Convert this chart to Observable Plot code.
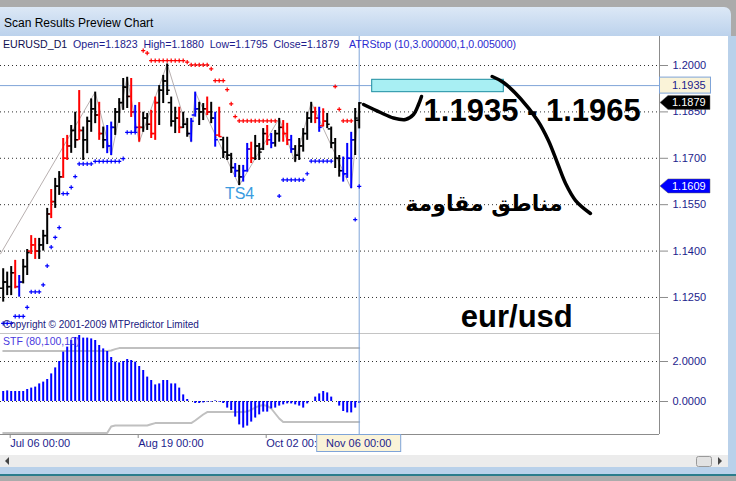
<!DOCTYPE html>
<html><head><meta charset="utf-8">
<script src="https://cdn.jsdelivr.net/npm/d3@7"></script>
<script src="https://cdn.jsdelivr.net/npm/@observablehq/plot@0.6"></script>
<style>
html,body{margin:0;padding:0;}
body{width:736px;height:481px;overflow:hidden;position:relative;background:#ababab;font-family:"Liberation Sans",Arial,sans-serif;}
.abs{position:absolute;}
#title{left:0;top:7px;width:731px;height:29px;background:linear-gradient(#dce8f6,#bcd2ec);border-top-right-radius:7px;}
#title span{position:absolute;left:4px;top:9px;font-size:12px;color:#000;}
#panel{left:0;top:36px;width:728px;height:419px;background:#fff;}
#rborder{left:728px;top:36px;width:8px;height:438px;background:#b9d1ea;}
#hscroll{left:0;top:455px;width:728px;height:12px;background:#ececec;}
#bborder{left:0;top:467px;width:736px;height:7px;background:#b9d1ea;}
#bline{left:0;top:474px;width:736px;height:2px;background:#2a7d8c;}
.txt{white-space:pre;font-size:11px;}
</style></head>
<body>
<div id="title" class="abs"><span>Scan Results Preview Chart</span></div>
<div id="panel" class="abs"></div>
<div id="rborder" class="abs"></div>
<div id="hscroll" class="abs"></div>
<div id="bborder" class="abs"></div>
<div id="bline" class="abs"></div>
<div id="pricewrap" class="abs" style="left:0;top:36px;"></div>
<div id="oscwrap" class="abs" style="left:0;top:332px;"></div>
<script>
// ---------- data ----------
const symbolName = "EURUSD_D1";
const atrLabel = "ATRStop (10,3.000000,1,0.005000)";
const oscLabel = "STF (80,100,10)";
const copyrightText = "Copyright \u00A9 2001-2009 MTPredictor Limited";

const highs = [1.1343,1.1332,1.1350,1.1370,1.1321,1.1373,1.1405,1.1450,1.1441,1.1441,
1.1467,1.1538,1.1599,1.1635,1.1657,1.1764,1.1774,1.1806,1.1849,1.1919,
1.1801,1.1833,1.1892,1.1914,1.1881,1.1801,1.1806,1.1817,1.1861,1.1893,
1.1958,1.1962,1.1958,1.1871,1.1880,1.1849,1.1845,1.1855,1.1898,1.1935,
1.1968,1.2005,1.1898,1.1865,1.1865,1.1849,1.1829,1.1829,1.1914,1.1881,
1.1877,1.1898,1.1881,1.1849,1.1865,1.1768,1.1768,1.1716,1.1683,1.1677,
1.1677,1.1748,1.1752,1.1774,1.1748,1.1796,1.1806,1.1780,1.1790,1.1829,
1.1822,1.1813,1.1774,1.1741,1.1764,1.1796,1.1849,1.1881,1.1865,1.1865,
1.1860,1.1845,1.1801,1.1764,1.1709,1.1704,1.1748,1.1784,1.1861,1.1880];
const lows = [1.1235,1.1256,1.1256,1.1278,1.1251,1.1294,1.1321,1.1389,1.1373,1.1373,
1.1400,1.1421,1.1505,1.1538,1.1580,1.1635,1.1693,1.1716,1.1732,1.1758,
1.1693,1.1715,1.1784,1.1812,1.1758,1.1731,1.1715,1.1709,1.1774,1.1813,
1.1855,1.1861,1.1832,1.1780,1.1752,1.1784,1.1790,1.1764,1.1758,1.1806,
1.1877,1.1903,1.1801,1.1780,1.1780,1.1796,1.1768,1.1752,1.1833,1.1806,
1.1822,1.1838,1.1812,1.1736,1.1768,1.1699,1.1693,1.1651,1.1638,1.1612,
1.1623,1.1655,1.1683,1.1693,1.1693,1.1725,1.1741,1.1731,1.1736,1.1752,
1.1752,1.1741,1.1716,1.1687,1.1693,1.1720,1.1758,1.1813,1.1812,1.1784,
1.1801,1.1796,1.1731,1.1667,1.1639,1.1623,1.1635,1.1602,1.1709,1.1795];
const opens = [1.1280,1.1300,1.1285,1.1330,1.1285,1.1300,1.1350,1.1400,1.1420,1.1400,
1.1420,1.1450,1.1520,1.1560,1.1610,1.1640,1.1700,1.1740,1.1790,1.1760,
1.1790,1.1760,1.1820,1.1860,1.1840,1.1780,1.1760,1.1740,1.1800,1.1850,
1.1880,1.1930,1.1900,1.1850,1.1800,1.1800,1.1830,1.1810,1.1780,1.1880,
1.1920,1.1950,1.1880,1.1820,1.1830,1.1800,1.1810,1.1780,1.1840,1.1860,
1.1850,1.1860,1.1850,1.1830,1.1775,1.1760,1.1720,1.1710,1.1670,1.1660,
1.1640,1.1660,1.1730,1.1700,1.1740,1.1730,1.1780,1.1760,1.1750,1.1780,
1.1800,1.1780,1.1760,1.1730,1.1710,1.1740,1.1780,1.1830,1.1850,1.1830,
1.1805,1.1820,1.1795,1.1750,1.1700,1.1660,1.1650,1.1700,1.1760,1.1823];
const closes = [1.1300,1.1285,1.1330,1.1285,1.1300,1.1350,1.1395,1.1420,1.1400,1.1420,
1.1450,1.1520,1.1560,1.1610,1.1640,1.1700,1.1740,1.1790,1.1760,1.1790,
1.1760,1.1820,1.1860,1.1840,1.1780,1.1760,1.1740,1.1800,1.1850,1.1880,
1.1930,1.1900,1.1850,1.1800,1.1800,1.1830,1.1810,1.1780,1.1880,1.1920,
1.1950,1.1920,1.1820,1.1830,1.1800,1.1810,1.1780,1.1820,1.1860,1.1850,
1.1860,1.1850,1.1830,1.1760,1.1770,1.1720,1.1710,1.1670,1.1660,1.1640,
1.1660,1.1730,1.1700,1.1740,1.1720,1.1780,1.1760,1.1750,1.1780,1.1800,
1.1780,1.1760,1.1730,1.1710,1.1740,1.1780,1.1830,1.1850,1.1830,1.1800,
1.1820,1.1810,1.1750,1.1700,1.1660,1.1650,1.1700,1.1760,1.1830,1.1879];
// k = black, r = red, u = blue
const barColors = "kkkrukkrrk" + "kkrkkrrkkr" + "kkkkrkuukk" + "kkrurkkrrk" + "kkkkrkkuuk" +
                  "krkurkkkuk" + "uurkkkrukk" + "rrukkkkkru" + "rkkkkuuukk";
const colorCodes = {k:"#000000", r:"#ff0000", u:"#0000ff"};

const atrBlue = [1.1166,1.1166,1.1166,1.1189,1.1189,1.1189,1.1218,1.1268,1.1268,1.1268,
1.1291,1.1352,1.1413,1.1444,1.1476,1.1586,1.1586,1.1606,1.1641,1.1682,
1.1682,1.1682,1.1682,1.1690,1.1690,1.1690,1.1690,1.1690,1.1690,1.1690,
1.1699,1.1784,1.1784,1.1784,null,null,null,null,null,null,
null,null,null,null,null,null,null,null,null,null,
null,null,null,null,null,null,null,null,null,null,
null,null,null,null,null,null,null,null,null,1.1578,
1.1630,1.1630,1.1630,1.1630,1.1630,1.1630,1.1650,1.1691,1.1691,1.1691,
1.1691,1.1691,1.1691,null,null,null,null,null,1.1502,1.1609];
const atrRed = [null,null,null,null,null,null,null,null,null,null,
null,null,null,null,null,null,null,null,null,null,
null,null,null,null,null,null,null,null,null,null,
null,null,null,null,null,1.2048,1.2040,1.2016,1.2016,1.2016,
1.2016,1.2016,1.2016,1.2016,1.2016,1.2016,1.2011,1.2002,1.2002,1.2002,
1.2002,1.2002,1.1989,1.1951,1.1951,1.1951,1.1922,1.1876,1.1835,1.1821,
1.1821,1.1821,1.1821,1.1821,1.1821,1.1821,1.1821,1.1821,1.1821,null,
null,null,null,null,null,null,null,null,null,null,
null,null,null,1.1932,1.1858,1.1821,1.1821,1.1821,null,null];

const zigzagIdx = [-0.675,23,27,31,34,41,47,48,59,69,73,77,87,89];
const zigzagPrice = [1.1391,1.1914,1.1709,1.1962,1.1752,1.2005,1.1752,1.1914,1.1612,1.1829,1.1687,1.1881,1.1602,1.1880];

const osc = [0.5,0.53,0.5,0.5,0.5,0.5,0.6,0.67,0.72,0.88,
0.97,1.1,1.38,1.68,2.0,2.47,2.72,3.05,3.2,3.3,
3.17,3.17,3.13,3.05,2.8,2.63,2.5,2.2,1.97,1.93,
2.0,2.1,2.05,1.97,1.75,1.55,1.22,1.05,0.83,0.88,
1.05,1.05,0.88,0.88,0.67,0.33,0.1,0,-0.1,-0.1,
-0.07,-0.03,-0.03,0.03,-0.03,-0.1,-0.33,-0.45,-0.78,-1.17,
-1.33,-1.23,-1.03,-0.83,-0.67,-0.53,-0.53,-0.37,-0.33,-0.23,
-0.17,-0.12,-0.12,-0.17,-0.23,-0.33,-0.12,0,0.22,0.38,
0.5,0.43,0.22,0,-0.23,-0.5,-0.57,-0.57,-0.33,-0.1];
const oscUpper = [2.53,2.53,2.53,2.53,2.53,2.53,2.53,2.53,2.53,2.53,
2.53,2.53,2.53,2.53,2.53,2.53,2.53,2.53,2.53,2.53,
2.53,2.53,2.53,2.53,2.53,2.53,2.53,2.55,2.62,2.67,
2.67,2.67,2.67,2.67,2.67,2.67,2.67,2.67,2.67,2.67,
2.67,2.67,2.67,2.67,2.67,2.67,2.67,2.67,2.67,2.67,
2.67,2.67,2.67,2.67,2.67,2.67,2.67,2.67,2.67,2.67,
2.67,2.67,2.67,2.67,2.67,2.67,2.67,2.67,2.67,2.67,
2.67,2.67,2.67,2.67,2.67,2.67,2.67,2.67,2.67,2.67,
2.67,2.67,2.67,2.67,2.67,2.67,2.67,2.67,2.67,2.67];
const oscLower = [-1.58,-1.58,-1.58,-1.58,-1.58,-1.58,-1.58,-1.58,-1.58,-1.58,
-1.58,-1.58,-1.58,-1.58,-1.58,-1.58,-1.58,-1.58,-1.58,-1.58,
-1.58,-1.58,-1.58,-1.58,-1.58,-1.58,-1.58,-1.25,-1.2,-1.2,
-1.2,-1.2,-1.2,-1.2,-1.2,-1.2,-1.2,-1.14,-1.08,-1.08,
-1.08,-1.08,-1.08,-1.08,-1.08,-1.08,-1.08,-1.08,-0.95,-0.8,
-0.65,-0.53,-0.53,-0.53,-0.53,-0.53,-0.53,-0.53,-0.53,-0.53,
-0.53,-0.5,-0.42,-0.3,-0.22,-0.18,-0.22,-0.35,-0.6,-0.85,
-1.03,-1.03,-1.03,-1.03,-1.03,-1.03,-1.03,-1.03,-1.03,-1.03,
-1.03,-1.03,-1.03,-1.03,-1.03,-1.03,-1.03,-1.03,-1.03,-1.03];

const priceTicks = [1.125,1.14,1.155,1.17,1.185,1.2];
const oscTicks = [0,2];
const dateTickIdx = [1,33,65];
const dateLabels = ["Jul 06 00:00","Aug 19 00:00","Oct 02 00:00"];
const cursorIdx = 89;
const cursorDate = "Nov 06 00:00";
const cursorPrice = 1.1935;
const stopPrice = 1.1609;

// annotations (index, price)
const zoneRect = {x1:92.25, x2:125.15, y1:1.19137, y2:1.19538};
const zoneText = {i:105.1, p:1.18529, text:"1.1935 - 1.1965"};
const arabicText = {i:120.2, p:1.15538, text:"مناطق مقاومة"};
const pairText = {i:128.4, p:1.11853, text:"eur/usd"};
const ts4Text = {i:59.1, p:1.15845, text:"TS4"};
const curve1Idx = [90.08,94.33,97.58,100.58,102.58,103.83,104.58];
const curve1Price = [1.18739,1.1848,1.18303,1.18254,1.18416,1.18739,1.18998];
const curve2Idx = [122.25,125.08,129.3,133.6,136.3,138.6,140.6,143.1,146.8];
const curve2Price = [1.19644,1.1945,1.18933,1.18222,1.17575,1.16832,1.16185,1.15635,1.15215];

// ---------- build ----------
const xMin = -0.675, xMax = 164.075;
const bars = highs.map((h,i) => ({i, high:h, low:lows[i], open:opens[i], close:closes[i], color:colorCodes[barColors[i]]}));
const atrPts = [];
atrBlue.forEach((v,i) => { if (v != null) atrPts.push({i, p:v, color:"#0000ff"}); });
atrRed.forEach((v,i) => { if (v != null) atrPts.push({i, p:v, color:"#ff0000"}); });
const zz = zigzagIdx.map((x,k) => ({i:x, p:zigzagPrice[k]}));
const c1 = curve1Idx.map((x,k) => ({i:x, p:curve1Price[k]}));
const c2 = curve2Idx.map((x,k) => ({i:x, p:curve2Price[k]}));
const navy = "#1c1c8c";
const cursorColor = "#7fa4d8";

const priceChart = Plot.plot({
  width:712, height:297, marginLeft:0, marginRight:53, marginTop:0, marginBottom:0,
  x:{type:"linear", domain:[xMin,xMax], axis:null},
  y:{type:"linear", domain:[1.113353,1.209376], axis:null},
  color:{type:"identity"},
  style:{fontFamily:"Liberation Sans, Arial, sans-serif", fontSize:"11px", color:navy, background:"transparent", overflow:"visible"},
  marks:[
    Plot.gridY(priceTicks, {stroke:"#303030", strokeOpacity:1, strokeDasharray:"1,3"}),
    Plot.ruleX([xMax], {stroke:"#8c8c8c"}),
    Plot.ruleY([cursorPrice], {stroke:cursorColor}),
    Plot.ruleX([cursorIdx], {stroke:cursorColor}),
    Plot.line(zz, {x:"i", y:"p", stroke:"#b8b0b0", strokeWidth:1}),
    Plot.ruleX(bars, {x:"i", y1:"low", y2:"high", stroke:"color", strokeWidth:2}),
    Plot.ruleY(bars, {y:"open", x1:d=>d.i-0.75, x2:d=>d.i, stroke:"color", strokeWidth:1.5}),
    Plot.ruleY(bars, {y:"close", x1:d=>d.i, x2:d=>d.i+0.75, stroke:"color", strokeWidth:1.5}),
    Plot.dot(atrPts, {x:"i", y:"p", symbol:"plus", r:1.45, stroke:"color", strokeWidth:1.2}),
    Plot.text([ts4Text], {x:"i", y:"p", text:"text", fill:"#3a9be0", fontSize:16}),
    Plot.rect([zoneRect], {x1:"x1", x2:"x2", y1:"y1", y2:"y2", fill:"#a8eff3", stroke:"#1c8ca0"}),
    Plot.text([zoneText], {x:"i", y:"p", text:"text", textAnchor:"start", fill:"#000", fontSize:31, fontWeight:"bold"}),
    Plot.text([arabicText], {x:"i", y:"p", text:"text", fill:"#000", fontSize:22, fontWeight:"bold", fontFamily:"DejaVu Sans"}),
    Plot.text([pairText], {x:"i", y:"p", text:"text", fill:"#000", fontSize:31, fontWeight:"bold"}),
    Plot.line(c1, {x:"i", y:"p", curve:"catmull-rom", stroke:"#000", strokeWidth:3.5, strokeLinecap:"round"}),
    Plot.line(c2, {x:"i", y:"p", curve:"catmull-rom", stroke:"#000", strokeWidth:3.5, strokeLinecap:"round"}),
    Plot.axisY(priceTicks, {anchor:"right", tickSize:8, tickPadding:5, tickFormat:".4f", stroke:"#8c8c8c", label:null})
  ]
});
document.getElementById("pricewrap").appendChild(priceChart);

const oscData = osc.map((v,i) => ({i, v, up:oscUpper[i], lo:oscLower[i]}));
const oscChart = Plot.plot({
  width:712, height:123, marginLeft:0, marginRight:53, marginTop:1, marginBottom:21,
  x:{type:"linear", domain:[xMin,xMax]},
  y:{type:"linear", domain:[-1.65,3.4]},
  style:{fontFamily:"Liberation Sans, Arial, sans-serif", fontSize:"11px", color:navy, background:"transparent", overflow:"visible"},
  marks:[
    Plot.gridY(oscTicks, {stroke:"#303030", strokeOpacity:1, strokeDasharray:"1,3"}),
    Plot.ruleY([3.4], {stroke:"#c4c4c4"}),
    Plot.line(oscData, {x:"i", y:"up", stroke:"#c0c0c0", strokeWidth:2}),
    Plot.line(oscData, {x:"i", y:"lo", stroke:"#c0c0c0", strokeWidth:2}),
    Plot.ruleX(oscData, {x:"i", y1:0, y2:"v", stroke:"#0000ff", strokeWidth:2}),
    Plot.ruleY([-1.65], {stroke:"#8c8c8c"}),
    Plot.ruleX([xMax], {stroke:"#8c8c8c"}),
    Plot.ruleX([cursorIdx], {stroke:cursorColor}),
    Plot.axisY(oscTicks, {anchor:"right", tickSize:8, tickPadding:5, tickFormat:".4f", stroke:"#8c8c8c", label:null}),
    Plot.axisX(dateTickIdx, {anchor:"bottom", tickSize:4, tickPadding:1, tickFormat:d=>dateLabels[dateTickIdx.indexOf(d)], textAnchor:"start", dx:3, stroke:"#8c8c8c", label:null})
  ]
});
document.getElementById("oscwrap").appendChild(oscChart);

// ---------- overlays (header, labels) ----------
const ys = priceChart.scale("y");
const yPage = p => 36 + (ys && ys.apply ? ys.apply(p) : d3.scaleLinear().domain([1.113353,1.209376]).range([297,0])(p));
const xs = priceChart.scale("x");
const xPage = i => (xs && xs.apply ? xs.apply(i) : d3.scaleLinear().domain([xMin,xMax]).range([0,659])(i));

const body = d3.select("body");
const last = bars[bars.length-1];
body.append("div").attr("class","abs txt").style("left","3px").style("top","38px").style("color",navy).style("font-size","10.6px")
  .html(`<span style="color:#101050">${symbolName}</span>  Open=${last.open.toFixed(4)}  High=${last.high.toFixed(4)}  Low=${last.low.toFixed(4)}  Close=${last.close.toFixed(4)}`);
body.append("div").attr("class","abs txt").style("left","349px").style("top","38px").style("color","#2a2ad0").style("font-size","10.6px").text(atrLabel);
body.append("div").attr("class","abs txt").style("left","3px").style("top","319px").style("font-size","10px").style("color","#202080").text(copyrightText);
body.append("div").attr("class","abs txt").style("left","3px").style("top","335px").style("font-size","10.5px").style("color","#4a3ae0").text(oscLabel);

const ov = body.append("svg").attr("class","abs").style("left","0px").style("top","0px")
  .attr("width",736).attr("height",481).style("pointer-events","none")
  .style("font-family","Liberation Sans, Arial, sans-serif").style("font-size","11px");
// cursor price box
const yc = yPage(cursorPrice);
ov.append("rect").attr("x",659.5).attr("y",yc-8).attr("width",51).attr("height",16).attr("fill","#faf3d8").attr("stroke",cursorColor);
ov.append("text").attr("x",672).attr("y",yc+4).attr("fill",navy).text(cursorPrice.toFixed(4));
// last close label and stop label
function arrowLabel(p, fill, txt){
  const y = yPage(p);
  ov.append("path").attr("d",`M660,${y} L668,${y-7} L710,${y-7} L710,${y+7} L668,${y+7} Z`).attr("fill",fill).attr("stroke","#606060").attr("stroke-width",0.5);
  ov.append("text").attr("x",672).attr("y",y+4).attr("fill","#fff").text(txt);
}
arrowLabel(last.close, "#000", last.close.toFixed(4));
arrowLabel(stopPrice, "#0000ff", stopPrice.toFixed(4));
// cursor date box
const xc = xPage(cursorIdx);
ov.append("rect").attr("x",xc-42).attr("y",434.5).attr("width",84).attr("height",17).attr("fill","#faf3d8").attr("stroke",cursorColor);
ov.append("text").attr("x",xc).attr("y",447).attr("text-anchor","middle").attr("fill",navy).text(cursorDate);
// scrollbar bits
ov.append("path").attr("d","M5,461 L9,457 L9,465 Z").attr("fill","#444");
ov.append("path").attr("d","M722,461 L718,457 L718,465 Z").attr("fill","#444");
ov.append("rect").attr("x",696.5).attr("y",456.5).attr("width",15).attr("height",10).attr("rx",2).attr("fill","#e2e2e2").attr("stroke","#9a9a9a");
</script>
</body></html>
